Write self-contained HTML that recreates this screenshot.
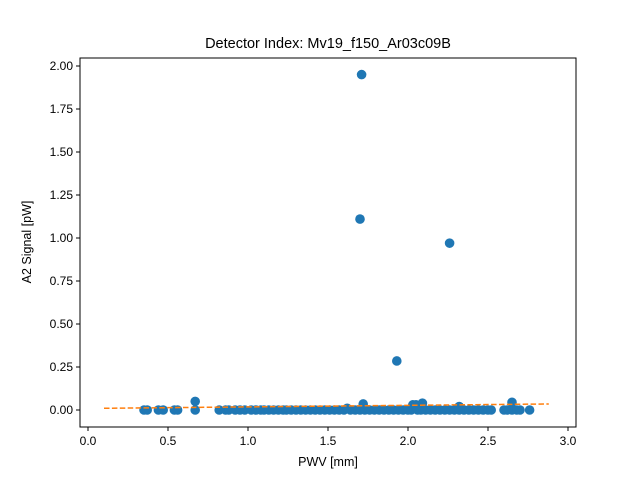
<!DOCTYPE html>
<html><head><meta charset="utf-8"><style>body{margin:0;background:#fff}svg{font-family:"Liberation Sans","DejaVu Sans",sans-serif}</style></head>
<body>
<svg id="c" width="640" height="480"></svg>
<script>
const xs = [0.35,0.37,0.44,0.47,0.54,0.56,0.67,0.82,0.86,0.88,0.92,0.95,0.98,1.02,1.05,1.08,1.1,1.13,1.16,1.19,1.22,1.24,1.27,1.3,1.33,1.36,1.39,1.42,1.45,1.48,1.51,1.54,1.57,1.6,1.64,1.67,1.7,1.73,1.76,1.79,1.82,1.85,1.88,1.91,1.94,1.97,2.0,2.02,2.06,2.08,2.11,2.14,2.17,2.2,2.23,2.26,2.29,2.32,2.35,2.38,2.41,2.44,2.47,2.5,2.52,2.6,2.62,2.65,2.68,2.7,2.76,1.71,1.70,2.26,1.93,0.67,2.65,2.09,1.72,2.03,2.05,2.32,1.62];
const ys = [0,0,0,0,0,0,0,0,0,0,0,0,0,0,0,0,0,0,0,0,0,0,0,0,0,0,0,0,0,0,0,0,0,0,0,0,0,0,0,0,0,0,0,0,0,0,0,0,0,0,0,0,0,0,0,0,0,0,0,0,0,0,0,0,0,0,0,0,0,0,0,1.95,1.11,0.97,0.285,0.05,0.045,0.04,0.035,0.03,0.03,0.02,0.01];
const fitX = [0.1,2.88];
const fitY = [0.01,0.035];
const xTicks = [0.0,0.5,1.0,1.5,2.0,2.5,3.0];
const xTickLabels = ["0.0","0.5","1.0","1.5","2.0","2.5","3.0"];
const yTicks = [0,0.25,0.5,0.75,1.0,1.25,1.5,1.75,2.0];
const yTickLabels = ["0.00","0.25","0.50","0.75","1.00","1.25","1.50","1.75","2.00"];
const L=80,R=576,T=58,B=427;
const sx=v=>88+v*160, sy=v=>410-v*172;
const svg=document.getElementById('c');const NS='http://www.w3.org/2000/svg';
function mk(t,a,p){const e=document.createElementNS(NS,t);for(const k in a)e.setAttribute(k,a[k]);(p||svg).appendChild(e);return e;}
let e;
e=mk('text',{x:328,y:48,'text-anchor':'middle','font-size':14.5});e.textContent='Detector Index: Mv19_f150_Ar03c09B';


xTicks.forEach((v,i)=>{const x=sx(v);mk('line',{x1:x,x2:x,y1:B,y2:B+4,stroke:'#000'});
e=mk('text',{x:x,y:B+18,'text-anchor':'middle','font-size':12});e.textContent=xTickLabels[i];

});
yTicks.forEach((v,i)=>{const y=sy(v);mk('line',{x1:L-4,x2:L,y1:y,y2:y,stroke:'#000'});
e=mk('text',{x:L-7,y:y+4,'text-anchor':'end','font-size':12});e.textContent=yTickLabels[i];

});
e=mk('text',{x:328,y:466,'text-anchor':'middle','font-size':12.5});e.textContent='PWV [mm]';


e=mk('text',{x:31,y:242,'text-anchor':'middle','font-size':12.5,transform:'rotate(-90 31 242)'});e.textContent='A2 Signal [pW]';


xs.forEach((x,i)=>{e=mk('circle',{cx:sx(x),cy:sy(ys[i]),r:4.8,fill:'#1f77b4'});

});
e=mk('line',{x1:sx(fitX[0]),y1:sy(fitY[0]),x2:sx(fitX[1]),y2:sy(fitY[1]),stroke:'#ff7f0e','stroke-width':1.5,'stroke-dasharray':'5.5,2.4'});


e=mk('rect',{x:L,y:T,width:R-L,height:B-T,fill:'none',stroke:'#000','stroke-width':1});


</script>
</body></html>
